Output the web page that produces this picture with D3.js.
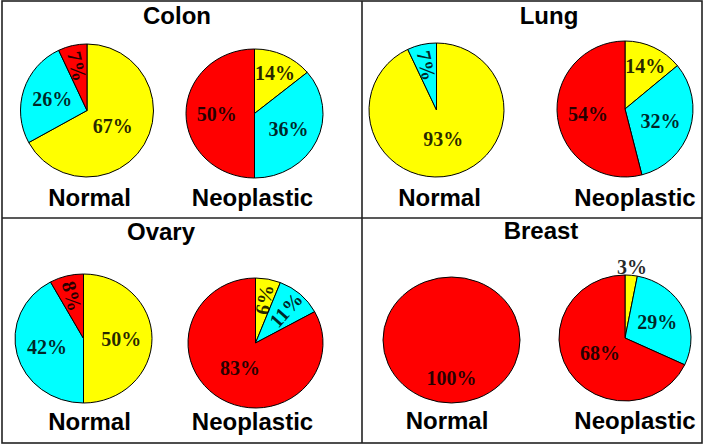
<!DOCTYPE html>
<html><head><meta charset="utf-8">
<script src="https://cdn.jsdelivr.net/npm/d3@7"></script>
<style>
html,body{margin:0;padding:0;background:#fff;}
svg{display:block;}
</style>
</head><body>
<svg id="chart" width="705" height="446"></svg>
<script>
// ---- data ----
const tissues = ["Colon", "Lung", "Ovary", "Breast"];
const groups = ["Normal", "Neoplastic"];
const categories = ["Category 1", "Category 2", "Category 3"];
const normalValues = [[67, 26, 7], [93, 7, 0], [50, 42, 8], [0, 0, 100]];
const neoplasticValues = [[14, 36, 50], [14, 32, 54], [6, 11, 83], [3, 29, 68]];

// ---- styling / layout ----
const colors = d3.scaleOrdinal().domain(categories).range(["#FFFF00", "#00FFFF", "#FF0000"]);
const panels = [
  {titleX: 177, titleY: 24,
   pies: [{cx: 87, cy: 110.5, rx: 66.5, ry: 66.5, lx: 89.5, ly: 206},
          {cx: 254.5, cy: 113.5, rx: 68.5, ry: 64.5, lx: 252.5, ly: 206}]},
  {titleX: 549, titleY: 24,
   pies: [{cx: 436.5, cy: 110, rx: 67.5, ry: 67, lx: 439.5, ly: 206},
          {cx: 625, cy: 109, rx: 68, ry: 68, lx: 635, ly: 206}]},
  {titleX: 161, titleY: 240,
   pies: [{cx: 83.5, cy: 338.5, rx: 68.5, ry: 64.5, lx: 89.5, ly: 430},
          {cx: 255.5, cy: 343, rx: 67.5, ry: 65, lx: 252.5, ly: 430}]},
  {titleX: 541, titleY: 239,
   pies: [{cx: 451.5, cy: 340, rx: 68.5, ry: 63, lx: 447, ly: 429},
          {cx: 625, cy: 338, rx: 66, ry: 63, lx: 635, ly: 429}]}
];

const svg = d3.select("#chart");
const pie = d3.pie().sort(null).value(d => d.value);

// borders
svg.append("rect").attr("x", 2).attr("y", 1).attr("width", 700).attr("height", 442)
  .attr("fill", "none").attr("stroke", "#222").attr("stroke-width", 1.6);
svg.append("line").attr("x1", 362).attr("x2", 362).attr("y1", 1).attr("y2", 443)
  .attr("stroke", "#222").attr("stroke-width", 1.6);
svg.append("line").attr("x1", 2).attr("x2", 702).attr("y1", 218).attr("y2", 218)
  .attr("stroke", "#222").attr("stroke-width", 1.6);

tissues.forEach((tissue, ti) => {
  const P = panels[ti];
  svg.append("text").attr("x", P.titleX).attr("y", P.titleY)
    .attr("text-anchor", "middle")
    .style("font-family", "'Liberation Sans', Arial, sans-serif")
    .style("font-weight", "bold").style("font-size", "24px")
    .text(tissue);

  groups.forEach((grp, gi) => {
    const vals = gi === 0 ? normalValues[ti] : neoplasticValues[ti];
    const data = categories.map((c, i) => ({cat: c, value: vals[i]}));
    const arcs = pie(data).filter(a => a.data.value > 0);
    const L = P.pies[gi];
    const R = L.rx;
    const sy = L.ry / L.rx;
    const arc = d3.arc().innerRadius(0).outerRadius(R);

    const g = svg.append("g").attr("transform", `translate(${L.cx},${L.cy}) scale(1,${sy})`);
    g.selectAll("path").data(arcs).join("path")
      .attr("d", arc)
      .attr("fill", d => colors(d.data.cat))
      .attr("stroke", "#000").attr("stroke-width", 1)
      .attr("vector-effect", "non-scaling-stroke");

    // labels
    arcs.forEach(a => {
      const v = a.data.value;
      const mid = (a.startAngle + a.endAngle) / 2;
      let r, rot = 0;
      if (v < 4) r = R + 9;
      else if (v < 12) { r = 0.68 * R; const deg = mid * 180 / Math.PI; rot = deg < 180 ? deg - 90 : deg + 90 - 360; }
      else if (v < 20) r = 0.7 * R;
      else if (v >= 100) r = 0.6 * R;
      else if (v >= 60) r = 0.45 * R;
      else r = 0.55 * R;
      const x = L.cx + r * Math.sin(mid);
      const y = L.cy - r * Math.cos(mid) * sy;
      svg.append("text")
        .attr("transform", `translate(${x},${y}) rotate(${rot})`)
        .attr("text-anchor", "middle").attr("dy", "0.35em")
        .style("font-family", "'Liberation Serif', 'Times New Roman', serif")
        .style("font-weight", "bold").style("font-size", "20px")
        .attr("fill", "#000").attr("fill-opacity", 0.85)
        .text(v + "%");
    });

    svg.append("text").attr("x", L.lx).attr("y", L.ly)
      .attr("text-anchor", "middle")
      .style("font-family", "'Liberation Sans', Arial, sans-serif")
      .style("font-weight", "bold").style("font-size", "24px")
      .text(grp);
  });
});
</script>
</body></html>
